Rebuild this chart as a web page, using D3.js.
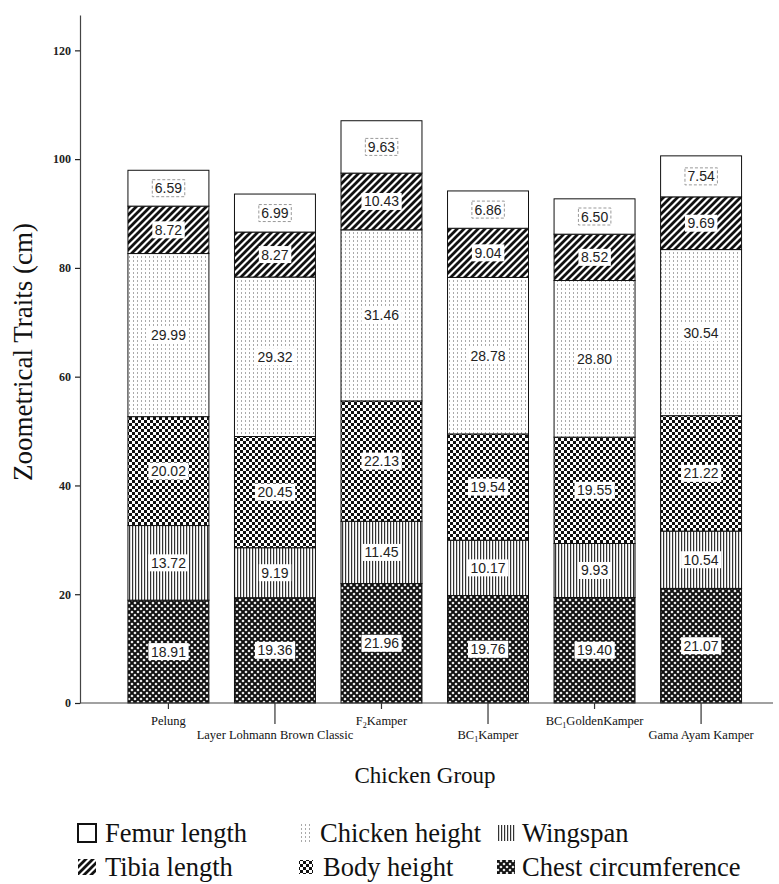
<!DOCTYPE html>
<html>
<head>
<meta charset="utf-8">
<script src="https://cdn.jsdelivr.net/npm/d3@7/dist/d3.min.js"></script>
<style>
  html, body { margin: 0; padding: 0; background: #fff; }
  svg { display: block; }
</style>
</head>
<body>
<svg id="chart" width="779" height="884"></svg>
<script>
// Chicken groups (x categories)
const groups = ["Pelung", "Layer Lohmann Brown Classic", "F2Kamper", "BC1Kamper", "BC1GoldenKamper", "Gama Ayam Kamper"];

// Trait series, stacked bottom to top
const seriesNames = ["Chest circumference", "Wingspan", "Body height", "Chicken height", "Tibia length", "Femur length"];
const chestCircumference = [18.91, 19.36, 21.96, 19.76, 19.40, 21.07];
const wingspan           = [13.72, 9.19, 11.45, 10.17, 9.93, 10.54];
const bodyHeight         = [20.02, 20.45, 22.13, 19.54, 19.55, 21.22];
const chickenHeight      = [29.99, 29.32, 31.46, 28.78, 28.80, 30.54];
const tibiaLength        = [8.72, 8.27, 10.43, 9.04, 8.52, 9.69];
const femurLength        = [6.59, 6.99, 9.63, 6.86, 6.50, 7.54];

const yTicks = [0, 20, 40, 60, 80, 100, 120];

// Legend layout order (row by row)
const legendOrder = ["Femur length", "Chicken height", "Wingspan", "Tibia length", "Body height", "Chest circumference"];

const valuesBySeries = {
  "Chest circumference": chestCircumference,
  "Wingspan": wingspan,
  "Body height": bodyHeight,
  "Chicken height": chickenHeight,
  "Tibia length": tibiaLength,
  "Femur length": femurLength
};

const rows = groups.map((g, i) => {
  const r = { group: g };
  seriesNames.forEach(s => { r[s] = valuesBySeries[s][i]; });
  return r;
});

const SERIF = "'Liberation Serif', 'Times New Roman', serif";
const SANS = "'Liberation Sans', Arial, sans-serif";

const svg = d3.select("#chart");
const defs = svg.append("defs");

// ---- fill patterns ----
function pattern(id, w, h) {
  return defs.append("pattern").attr("id", id)
    .attr("patternUnits", "userSpaceOnUse").attr("width", w).attr("height", h);
}
// Chest circumference: dark field with white diamond holes
{
  const p = pattern("pChest", 6, 6);
  p.append("rect").attr("width", 6).attr("height", 6).attr("fill", "#111");
  p.append("path")
    .attr("d", "M3,1.4 L4.6,3 L3,4.6 L1.4,3 Z M0,-1.6 L1.6,0 L0,1.6 L-1.6,0 Z M6,-1.6 L7.6,0 L6,1.6 L4.4,0 Z M0,4.4 L1.6,6 L0,7.6 L-1.6,6 Z M6,4.4 L7.6,6 L6,7.6 L4.4,6 Z")
    .attr("fill", "#fff");
}
// Wingspan: dense vertical lines
{
  const p = pattern("pWing", 3, 3);
  p.append("rect").attr("width", 3).attr("height", 3).attr("fill", "#fff");
  p.append("rect").attr("x", 0).attr("width", 1.2).attr("height", 3).attr("fill", "#333");
}
// Body height: checkerboard
{
  const p = pattern("pBody", 6, 6);
  p.append("rect").attr("width", 6).attr("height", 6).attr("fill", "#fff");
  p.append("rect").attr("width", 3).attr("height", 3).attr("fill", "#111");
  p.append("rect").attr("x", 3).attr("y", 3).attr("width", 3).attr("height", 3).attr("fill", "#111");
}
// Chicken height: light dotted vertical lines
{
  const p = pattern("pHeight", 4, 4);
  p.append("rect").attr("width", 4).attr("height", 4).attr("fill", "#fff");
  p.append("rect").attr("x", 1).attr("width", 1).attr("height", 2).attr("fill", "#aaa");
}
// Tibia length: bold diagonal stripes
{
  const p = pattern("pTibia", 7, 7);
  p.append("rect").attr("width", 7).attr("height", 7).attr("fill", "#fff");
  p.append("path").attr("d", "M-2,9 L9,-2 M-2,2 L2,-2 M5,9 L9,5")
    .attr("stroke", "#111").attr("stroke-width", 2.8);
}

const fills = {
  "Chest circumference": "url(#pChest)",
  "Wingspan": "url(#pWing)",
  "Body height": "url(#pBody)",
  "Chicken height": "url(#pHeight)",
  "Tibia length": "url(#pTibia)",
  "Femur length": "#fff"
};

// ---- scales ----
const axisX = 80, baseY = 703, topY = 15, axisEndX = 773;
const y = d3.scaleLinear().domain([0, 126.5]).range([baseY, topY]);
const x = d3.scaleBand().domain(groups).range([axisX, 789.5])
  .paddingInner(0.24).paddingOuter(0.45);

const stacked = d3.stack().keys(seriesNames)(rows);

// ---- bars ----
const layers = svg.append("g").selectAll("g").data(stacked).join("g")
  .attr("fill", d => fills[d.key]);

layers.selectAll("rect").data(d => d.map(v => ({ key: d.key, v }))).join("rect")
  .attr("x", d => x(d.v.data.group))
  .attr("y", d => y(d.v[1]))
  .attr("width", x.bandwidth())
  .attr("height", d => y(d.v[0]) - y(d.v[1]))
  .attr("stroke", "#111").attr("stroke-width", 1);

// ---- value labels ----
const labelG = svg.append("g");
stacked.forEach(layer => {
  layer.forEach(v => {
    const val = v[1] - v[0];
    const cx = x(v.data.group) + x.bandwidth() / 2;
    const cy = (y(v[0]) + y(v[1])) / 2;
    const g = labelG.append("g");
    const t = g.append("text")
      .attr("x", cx).attr("y", cy)
      .attr("text-anchor", "middle").attr("dominant-baseline", "central")
      .attr("font-family", SANS)
      .attr("font-size", 14).attr("fill", "#222")
      .text(val.toFixed(2));
    const bb = t.node().getBBox();
    const box = g.insert("rect", "text")
      .attr("x", bb.x - 2.5).attr("y", bb.y - 0.5)
      .attr("width", bb.width + 5).attr("height", bb.height + 1)
      .attr("fill", "#fff");
    if (layer.key === "Femur length") {
      box.attr("stroke", "#999").attr("stroke-width", 1).attr("stroke-dasharray", "3,2");
    }
  });
});

// ---- y axis ----
const yAxis = d3.axisLeft(y).tickValues(yTicks).tickSize(5).tickSizeOuter(0).tickFormat(d3.format("d"));
const gy = svg.append("g").attr("transform", `translate(${axisX},0)`).call(yAxis);
gy.select(".domain").attr("stroke", "#444").attr("stroke-width", 1.2);
gy.selectAll(".tick line").attr("stroke", "#222").attr("stroke-width", 1.2);
gy.selectAll(".tick text")
  .attr("font-family", SERIF)
  .attr("font-size", 12).attr("font-weight", "bold").attr("fill", "#222").attr("x", -9);

// ---- x axis ----
svg.append("line")
  .attr("x1", axisX).attr("x2", axisEndX).attr("y1", baseY).attr("y2", baseY)
  .attr("stroke", "#444").attr("stroke-width", 1.2);

const gx = svg.append("g");
groups.forEach((g, i) => {
  const cx = x(g) + x.bandwidth() / 2;
  const long = i % 2 === 1;
  gx.append("line").attr("x1", cx).attr("x2", cx)
    .attr("y1", baseY).attr("y2", baseY + (long ? 21 : 6))
    .attr("stroke", "#333").attr("stroke-width", 1.2);
  const t = gx.append("text")
    .attr("x", cx).attr("y", baseY + (long ? 36 : 22))
    .attr("text-anchor", "middle")
    .attr("font-family", SERIF)
    .attr("font-size", 12.5).attr("fill", "#111");
  const m = g.match(/^(F|BC)(\d)(.*)$/);
  if (m) {
    t.append("tspan").text(m[1]);
    t.append("tspan").attr("font-size", 8).attr("dy", 3).text(m[2]);
    t.append("tspan").attr("dy", -3).text(m[3]);
  } else {
    t.text(g);
  }
});

// ---- axis titles ----
svg.append("text")
  .attr("transform", "translate(32,352) rotate(-90)")
  .attr("text-anchor", "middle")
  .attr("font-family", SERIF)
  .attr("font-size", 27).attr("fill", "#111")
  .text("Zoometrical Traits (cm)");

svg.append("text")
  .attr("x", 425).attr("y", 783)
  .attr("text-anchor", "middle")
  .attr("font-family", SERIF)
  .attr("font-size", 23).attr("fill", "#111")
  .text("Chicken Group");

// ---- legend ----
const legendCols = [78, 298, 497];
const legendTextX = [105, 320, 522];
const legendRows = [833, 867];
const legendIcon = {
  "Femur length":        { w: 18, h: 18, dx: 0 },
  "Chicken height":      { w: 13, h: 18, dx: 1 },
  "Wingspan":            { w: 17, h: 16, dx: 1 },
  "Tibia length":        { w: 18, h: 16, dx: 0 },
  "Body height":         { w: 14, h: 14, dx: 1 },
  "Chest circumference": { w: 18, h: 14, dx: 0 }
};
const lg = svg.append("g");
legendOrder.forEach((name, i) => {
  const col = i % 3, cy = legendRows[Math.floor(i / 3)];
  const ic = legendIcon[name];
  const item = lg.append("g");
  item.append("rect")
    .attr("x", legendCols[col] + ic.dx).attr("y", cy - ic.h / 2)
    .attr("width", ic.w).attr("height", ic.h)
    .attr("fill", fills[name])
    .attr("stroke", name === "Femur length" ? "#111" : "none")
    .attr("stroke-width", 2);
  item.append("text")
    .attr("x", legendTextX[col] + (name === "Body height" ? 3 : 0)).attr("y", cy)
    .attr("dominant-baseline", "central")
    .attr("font-family", SERIF)
    .attr("font-size", 26.5).attr("fill", "#111")
    .text(name);
});
</script>
</body>
</html>
